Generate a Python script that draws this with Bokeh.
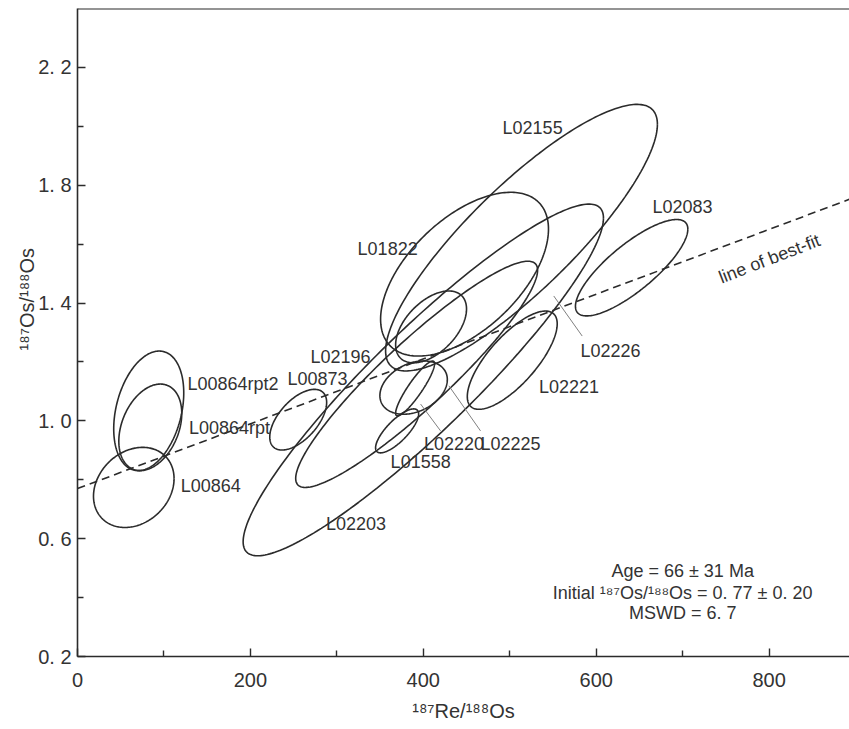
import numpy as np
from bokeh.plotting import figure
from bokeh.models import FixedTicker, Span
from bokeh.core.properties import value
from bokeh.embed import file_html
from bokeh.resources import INLINE

# ---- data: Re-Os isochron error ellipses (centre, 2-sigma half extents, error correlation)
samples = ["L00864rpt2", "L00864rpt", "L00864", "L00873", "L02203", "L02196",
           "L02155", "L01822", "A", "L02225", "L02220", "L01558", "L02221", "L02083"]
re_os = [82.4, 84.2, 65.1, 255.3, 400.0, 392.3, 513.6, 447.7, 409.0, 388.8, 390.5, 369.7, 502.9, 641.0]
re_os_err = [40.5, 36.4, 46.6, 32.9, 208.4, 139.9, 157.2, 97.1, 41.0, 39.0, 22.5, 24.9, 52.0, 65.0]
os_os = [1.034, 0.978, 0.774, 1.004, 1.139, 1.158, 1.622, 1.498, 1.319, 1.113, 1.110, 0.966, 1.206, 1.520]
os_os_err = [0.203, 0.147, 0.136, 0.103, 0.597, 0.384, 0.4525, 0.278, 0.122, 0.0905, 0.093, 0.0746, 0.1668, 0.1637]
rho = [0.30, 0.32, 0.22, 0.57, 0.92, 0.92, 0.85, 0.55, 0.50, 0.30, 0.90, 0.77, 0.74, 0.80]

# best-fit line end points
fit_x = [0, 900]
fit_y = [0.77, 1.76]

# sample labels
label_text = ["L00864rpt2", "L00864rpt", "L00864", "L00873", "L02203", "L02196",
              "L02155", "L01822", "L02220", "L02225", "L01558", "L02221", "L02083", "L02226"]
label_x = [127.2, 129.0, 119.5, 242.8, 287.5, 269.4, 491.7, 324.0, 400.7, 466.2, 362.2, 533.7, 665.1, 581.8]
label_y = [1.125, 0.977, 0.780, 1.141, 0.650, 1.217, 1.993, 1.583, 0.921, 0.921, 0.859, 1.115, 1.725, 1.237]

# leader lines
lead_x0 = [420.0, 466.2, 583.8]
lead_y0 = [0.966, 0.966, 1.288]
lead_x1 = [396.9, 429.6, 550.9]
lead_y1 = [1.057, 1.119, 1.424]

x_ticks = [0, 200, 400, 600, 800]
x_minor = [100, 300, 500, 700]
y_ticks = [0.2, 0.6, 1.0, 1.4, 1.8, 2.2]
y_minor = [0.4, 0.8, 1.2, 1.6, 2.0]

FONT = "Liberation Sans"
INK = "#2b2b2b"
TXT = "#333333"

p = figure(width=849, height=729, x_range=(0, 893), y_range=(0.2, 2.4),
           output_backend="svg", toolbar_location=None,
           min_border_left=77, min_border_right=0, min_border_top=8, min_border_bottom=73)
p.grid.visible = False
p.outline_line_color = None
p.background_fill_color = "white"

# ellipses
t = np.linspace(0, 2 * np.pi, 241)
xs, ys = [], []
for cx, ex, cy, ey, r in zip(re_os, re_os_err, os_os, os_os_err, rho):
    xs.append(cx + ex * np.cos(t))
    ys.append(cy + ey * (r * np.cos(t) + np.sqrt(1 - r * r) * np.sin(t)))
p.multi_line(xs, ys, line_color=INK, line_width=1.6)

# best-fit
p.line(fit_x, fit_y, line_color=INK, line_width=1.6, line_dash="8 5")

# leaders
p.segment(lead_x0, lead_y0, lead_x1, lead_y1, line_color="#808080", line_width=1)

p.text(label_x, label_y, text=label_text, text_font=value(FONT), text_font_size="18px",
       text_color=TXT, text_baseline="middle", text_align="left")

p.text([800.3], [1.55], text=["line of best-fit"], angle=0.37, text_font=value(FONT),
       text_font_size="18px", text_color=TXT, text_baseline="middle", text_align="center")

p.text([700, 700, 700], [0.4915, 0.417, 0.346],
       text=["Age = 66 \u00b1 31 Ma",
             "Initial \u00b9\u2078\u2077Os/\u00b9\u2078\u2078Os = 0. 77 \u00b1 0. 20",
             "MSWD = 6. 7"],
       text_font=value(FONT), text_font_size="18px", text_color=TXT,
       text_baseline="middle", text_align="center")

# top border
p.add_layout(Span(location=2.4, dimension="width", line_color=INK, line_width=2))

# axes
p.xaxis.ticker = FixedTicker(ticks=x_ticks, minor_ticks=x_minor)
p.yaxis.ticker = FixedTicker(ticks=y_ticks, minor_ticks=y_minor)
p.yaxis.major_label_overrides = {v: f"{v:.1f}".replace(".", ". ") for v in y_ticks}
for ax in (p.xaxis[0], p.yaxis[0]):
    ax.axis_line_color = INK
    ax.axis_line_width = 1.6
    ax.major_tick_line_color = INK
    ax.minor_tick_line_color = INK
    ax.major_tick_line_width = 1.4
    ax.minor_tick_line_width = 1.4
    ax.major_tick_in = 8
    ax.major_tick_out = 0
    ax.minor_tick_in = 6
    ax.minor_tick_out = 0
    ax.major_label_text_font = FONT
    ax.major_label_text_font_size = "20px"
    ax.major_label_text_color = TXT
    ax.axis_label_text_font = FONT
    ax.axis_label_text_font_size = "20px"
    ax.axis_label_text_font_style = "normal"
    ax.axis_label_text_color = TXT
p.xaxis.axis_label = "\u00b9\u2078\u2077Re/\u00b9\u2078\u2078Os"
# the original y title sits above the middle of the axis: pad its lower end
p.yaxis.axis_label = "\u00a0" * 12 + "\u00b9\u2078\u2077Os/\u00b9\u2078\u2078Os"
p.xaxis.major_label_standoff = 16
p.yaxis.major_label_standoff = 6
p.xaxis.axis_label_standoff = 10
p.yaxis.axis_label_standoff = -3

open("out.html", "w").write(file_html(p, INLINE))
